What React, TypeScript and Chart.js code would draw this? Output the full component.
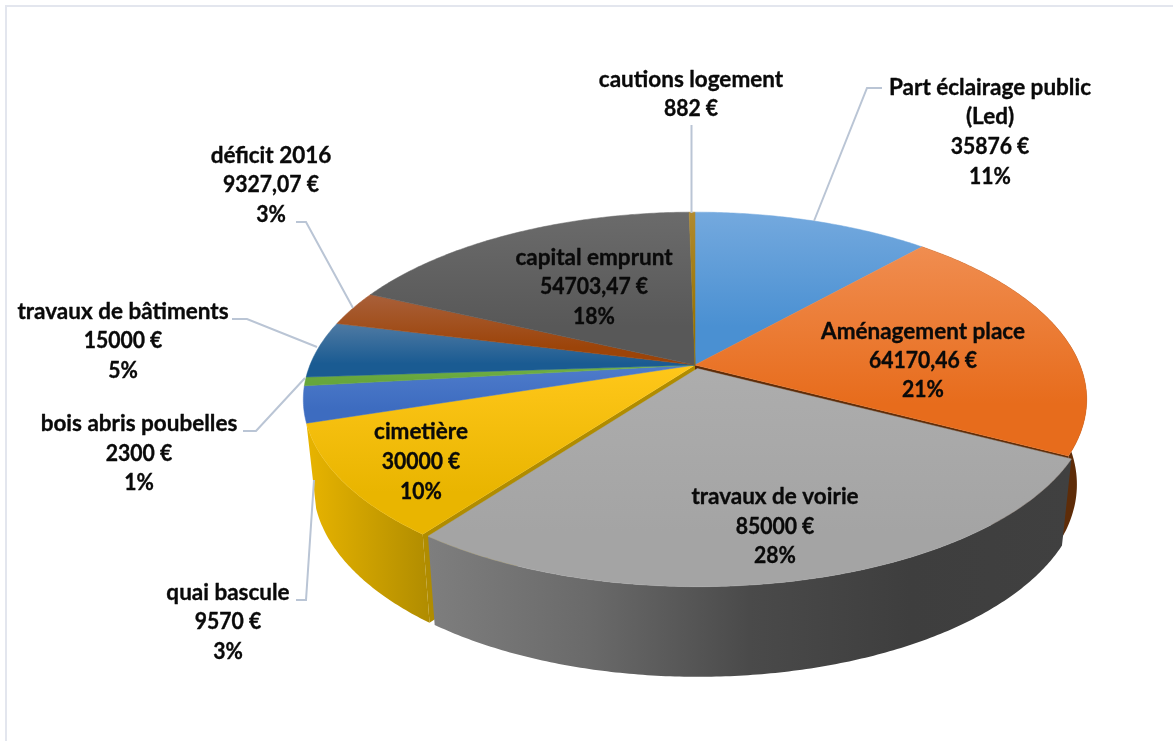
import React, { useEffect, useRef } from "react";
import { Chart, registerables } from "chart.js";

Chart.register(...registerables);

const categories = [
  "Part éclairage public (Led)",
  "Aménagement place",
  "travaux de voirie",
  "cimetière",
  "quai bascule",
  "bois abris poubelles",
  "travaux de bâtiments",
  "déficit 2016",
  "capital emprunt",
  "cautions logement",
];
const amounts = [35876, 64170.46, 85000, 30000, 9570, 2300, 15000, 9327.07, 54703.47, 882];
const amountLabels = ["35876 €", "64170,46 €", "85000 €", "30000 €", "9570 €", "2300 €", "15000 €", "9327,07 €", "54703,47 €", "882 €"];
const percentLabels = ["11%", "21%", "28%", "10%", "3%", "1%", "5%", "3%", "18%", ""];
const topColors = ["#74a9de", "#f08d50", "#adadad", "#ffc71a", "#4f7ccb", "#72b146", "#4f7aa3", "#a9603a", "#6b6b6b", "#b08a30"];
const bottomColors = ["#4a90d2", "#e76c1c", "#a4a4a4", "#e9b500", "#3d6cc0", "#66a63c", "#1a5b92", "#9c4409", "#585858", "#997300"];
const wallColors = [
  ["#2f5f8c", "#2f5f8c"], ["#5e2c08", "#5e2c08"], ["#7e7e7e", "#6a6a6a", "#4a4a4a", "#3e3e3e", "#404040"],
  ["#e8b400", "#b08c00"], ["#2c4a80", "#2c4a80"], ["#4a7230", "#4a7230"], ["#183d5f", "#183d5f"],
  ["#672f09", "#672f09"], ["#414141", "#414141"], ["#644b00", "#644b00"],
];
const explodedIndex = 2;
const explodeU = 0.0063;
const explodeV = 0.0195;
const explodedDepthScale = 0.98;
const explodedInsetStart = 0.004;
const explodedInsetEnd = 0.008;
const visibleWalls = [1, 3];

const labelLayouts = [
  { x: 990, ys: [87, 116, 146, 176], lines: ["Part éclairage public", "(Led)", amountLabels[0], percentLabels[0]] },
  { x: 923, ys: [331, 360, 389], lines: [categories[1], amountLabels[1], percentLabels[1]] },
  { x: 775, ys: [496, 526, 555], lines: [categories[2], amountLabels[2], percentLabels[2]] },
  { x: 421, ys: [431, 461, 491], lines: [categories[3], amountLabels[3], percentLabels[3]] },
  { x: 228, ys: [592, 621, 651], lines: [categories[4], amountLabels[4], percentLabels[4]] },
  { x: 139, ys: [423, 453, 482], lines: [categories[5], amountLabels[5], percentLabels[5]] },
  { x: 123, ys: [311, 340, 370], lines: [categories[6], amountLabels[6], percentLabels[6]] },
  { x: 271, ys: [155, 184, 214], lines: [categories[7], amountLabels[7], percentLabels[7]] },
  { x: 594, ys: [257, 286, 316], lines: [categories[8], amountLabels[8], percentLabels[8]] },
  { x: 691, ys: [79, 108], lines: [categories[9], amountLabels[9]] },
];
const leaderLines = [
  [[882, 88], [867, 88], [814, 221]],
  [[296, 222], [306, 222], [353, 308]],
  [[232, 319], [247, 319], [317, 347]],
  [[243, 431], [256, 431], [305, 378]],
  [[296, 600], [306, 600], [314, 480]],
  [[691.5, 125], [691.5, 213]],
];

// projection of the unit disc
const CX = 695, CY = 365, BX = 385, AY = 181, K = 0.184;
const BOTTOM_SCALE = 0.975, BOTTOM_CY = 449, BOTTOM_AY = 186;
const project = (u: number, v: number, bottom = false) => {
  const s = 1 / (1 - K * v);
  if (bottom) return [CX + BOTTOM_SCALE * BX * u * s, BOTTOM_CY + BOTTOM_AY * v * s];
  return [CX + BX * u * s, CY + AY * v * s];
};

const arcPoints = (a0: number, a1: number, ox: number, oy: number, ry: number, bottom = false) => {
  const n = Math.max(2, Math.ceil(Math.abs(a1 - a0) / 0.01));
  const pts: number[][] = [];
  for (let i = 0; i <= n; i++) {
    const a = a0 + ((a1 - a0) * i) / n;
    pts.push(project(Math.cos(a) + ox, ry * Math.sin(a) + oy, bottom));
  }
  return pts;
};

const tracePath = (ctx: CanvasRenderingContext2D, pts: number[][]) => {
  ctx.beginPath();
  pts.forEach((p, i) => (i ? ctx.lineTo(p[0], p[1]) : ctx.moveTo(p[0], p[1])));
  ctx.closePath();
};

const pie3dPlugin = {
  id: "pie3d",
  beforeDatasetDraw(chart: any) {
    const ctx: CanvasRenderingContext2D = chart.ctx;
    const arcs = chart.getDatasetMeta(0).data;
    const offsetOf = (i: number) => (i === explodedIndex ? [explodeU, explodeV, explodedDepthScale] : [0, 0, 1]);
    const anglesOf = (i: number) =>
      i === explodedIndex
        ? [arcs[i].startAngle + explodedInsetStart, arcs[i].endAngle - explodedInsetEnd]
        : [arcs[i].startAngle, arcs[i].endAngle];
    const drawWall = (i: number) => {
      const [ox, oy, r] = offsetOf(i);
      const [a0, a1] = anglesOf(i);
      const top = arcPoints(a0, a1, ox, oy, r);
      const bot = arcPoints(a0, a1, ox, oy, r, true);
      const xs = top.concat(bot).map((p) => p[0]);
      const g = ctx.createLinearGradient(Math.min(...xs), 0, Math.max(...xs), 0);
      const stops = wallColors[i];
      stops.forEach((c, k) => g.addColorStop(k / (stops.length - 1), c));
      tracePath(ctx, top.concat(bot.reverse()));
      ctx.fillStyle = g;
      ctx.fill();
    };
    const drawTop = (i: number) => {
      const [ox, oy, r] = offsetOf(i);
      const [a0, a1] = anglesOf(i);
      const pts = [project(ox, oy), ...arcPoints(a0, a1, ox, oy, r)];
      const ys = pts.map((p) => p[1]);
      const g = ctx.createLinearGradient(0, Math.min(...ys), 0, Math.max(...ys));
      g.addColorStop(0, topColors[i]);
      g.addColorStop(0.75, bottomColors[i]);
      g.addColorStop(1, bottomColors[i]);
      tracePath(ctx, pts);
      ctx.fillStyle = g;
      ctx.strokeStyle = g;
      ctx.lineWidth = 0.5;
      ctx.fill();
      ctx.stroke();
    };
    const drawCut = (i: number, angle: number) => {
      const c = wallColors[i][wallColors[i].length - 1];
      const u = Math.cos(angle), v = Math.sin(angle);
      tracePath(ctx, [project(0, 0), project(u, v), project(u, v, true), project(0, 0, true)]);
      ctx.fillStyle = c;
      ctx.fill();
    };
    visibleWalls.forEach(drawWall);
    drawCut(explodedIndex - 1, arcs[explodedIndex].startAngle);
    drawCut(explodedIndex + 1, arcs[explodedIndex].endAngle);
    arcs.forEach((_: any, i: number) => { if (i !== explodedIndex) drawTop(i); });
    drawWall(explodedIndex);
    drawTop(explodedIndex);
    return false;
  },
  afterDatasetsDraw(chart: any) {
    const ctx: CanvasRenderingContext2D = chart.ctx;
    ctx.save();
    ctx.strokeStyle = "#bac5d5";
    ctx.lineWidth = 2;
    leaderLines.forEach((l) => {
      ctx.beginPath();
      l.forEach((p, i) => (i ? ctx.lineTo(p[0], p[1]) : ctx.moveTo(p[0], p[1])));
      ctx.stroke();
    });
    ctx.fillStyle = "#0a0a0a";
    ctx.strokeStyle = "#0a0a0a";
    ctx.lineWidth = 0.35;
    ctx.lineJoin = "round";
    ctx.font = "bold 22.5px Lato";
    ctx.textAlign = "center";
    ctx.textBaseline = "middle";
    labelLayouts.forEach((l) =>
      l.lines.forEach((t, i) => {
        // Lato's figures run wider than the reference's: condense lines that start with one
        const w = ctx.measureText(t).width * (/^\d/.test(t) ? 0.94 : 1);
        ctx.fillText(t, l.x, l.ys[i] + 1, w);
        ctx.strokeText(t, l.x, l.ys[i] + 1, w);
      })
    );
    ctx.restore();
  },
};

const framePlugin = {
  id: "frame",
  beforeDraw(chart: any) {
    const ctx: CanvasRenderingContext2D = chart.ctx;
    ctx.save();
    ctx.fillStyle = "#ffffff";
    ctx.fillRect(0, 0, chart.width, chart.height);
    ctx.strokeStyle = "#e3e6ee";
    ctx.lineWidth = 2;
    ctx.beginPath();
    ctx.moveTo(6, 741);
    ctx.lineTo(6, 6);
    ctx.lineTo(1173, 6);
    ctx.stroke();
    ctx.restore();
  },
};

export default function App() {
  const ref = useRef<HTMLCanvasElement>(null);
  useEffect(() => {
    const chart = new Chart(ref.current!, {
      type: "pie",
      data: { labels: categories, datasets: [{ data: amounts, backgroundColor: bottomColors }] },
      options: {
        responsive: false,
        animation: false,
        plugins: { legend: { display: false }, tooltip: { enabled: false } },
      },
      plugins: [framePlugin, pie3dPlugin],
    } as any);
    return () => chart.destroy();
  }, []);
  return (
    <canvas
      ref={ref}
      width={1173}
      height={741}
      style={{ position: "absolute", left: 0, top: 0, display: "block" }}
    />
  );
}
